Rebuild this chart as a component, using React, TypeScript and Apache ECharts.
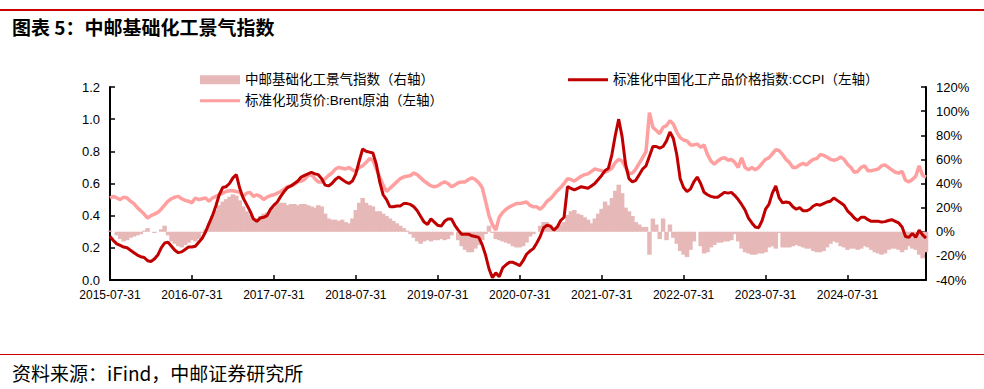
import React, { useEffect, useRef } from "react";
import * as echarts from "echarts";

// ---- categories: semi-monthly dates 2015-07-31 .. 2025-07-15 ----
const pad = (n: number) => (n < 10 ? "0" + n : "" + n);
const dates: string[] = [];
for (let k = 0; k < 120; k++) {
  const mIdx = 6 + k;
  const y = 2015 + Math.floor(mIdx / 12);
  const m = (mIdx % 12) + 1;
  const last = new Date(y, m, 0).getDate();
  dates.push(`${y}-${pad(m)}-${pad(last)}`);
  const n = mIdx + 1;
  const ny = 2015 + Math.floor(n / 12);
  const nm = (n % 12) + 1;
  dates.push(`${ny}-${pad(nm)}-15`);
}

const seriesNames = [
  "中邮基础化工景气指数（右轴）",
  "标准化中国化工产品价格指数:CCPI（左轴）",
  "标准化现货价:Brent原油（左轴）",
];

// 中邮基础化工景气指数 (%), right axis
const boomIndex = [
  1, 0, -3, -6, -8, -7, -5, -4, -3, -2,
  1, 3, 0, -1, 0, 2, 5, -3, -8, -10,
  -12, -13, -11, -9, -7, -8, -6, -1, 2, 7,
  13, 18, 22, 25, 27, 29, 31, 30, 26, 21,
  17, 14, 11, 11, 13, 15, 16, 18, 20, 23,
  24, 24, 22, 23, 23, 22, 23, 23, 22, 21,
  20, 22, 21, 15, 11, 10, 10, 9, 10, 8,
  7, 11, 18, 24, 28, 24, 22, 21, 17, 17,
  15, 13, 11, 9, 7, 5, 3, 1, -2, -5,
  -8, -10, -8, -7, -8, -7, -7, -6, -7, -6,
  -3, 0, -7, -12, -15, -17, -17, -14, -11, -7,
  -2, 5, -1, -6, -7, -8, -9, -10, -12, -13,
  -13, -12, -9, -4, -2, 0, 5, 8, 8, 6,
  3, 4, 6, 8, 14, 17, 18, 15, 14, 12,
  10, 7, 11, 15, 19, 25, 22, 28, 34, 39,
  32, 20, 17, 13, 8, 6, 4, 4, -19, 11,
  6, -6, 11, -7, 6, -5, -10, -16, -19, -21,
  -15, -8, 0, -12, -18, -17, -13, -11, -9, -9,
  -8, -8, -7, -2, -8, -14, -17, -18, -19, -19,
  -18, -18, -17, -13, -12, -14, -1, -13, -13, -13,
  -12, -11, -12, -13, -14, -14, -16, -17, -17, -16,
  -13, -10, -8, -9, -12, -13, -15, -14, -14, -15,
  -14, -12, -13, -15, -17, -18, -19, -18, -15, -14,
  -14, -15, -17, -15, -12, -14, -15, -19, -22, -17,
];

// 标准化中国化工产品价格指数:CCPI, left axis
const ccpi = [
  0.27, 0.245, 0.225, 0.215, 0.205, 0.2, 0.185, 0.17, 0.155, 0.145,
  0.14, 0.12, 0.115, 0.13, 0.155, 0.2, 0.23, 0.235, 0.21, 0.185,
  0.17, 0.175, 0.19, 0.205, 0.205, 0.21, 0.235, 0.26, 0.3, 0.35,
  0.4, 0.46, 0.53, 0.575, 0.58, 0.6, 0.635, 0.655, 0.57, 0.51,
  0.47, 0.43, 0.38, 0.365, 0.385, 0.39, 0.4, 0.44, 0.465, 0.485,
  0.52, 0.55, 0.575, 0.585, 0.6, 0.615, 0.64, 0.65, 0.66, 0.67,
  0.66, 0.655, 0.63, 0.59, 0.585, 0.6, 0.625, 0.64, 0.625, 0.61,
  0.6, 0.615, 0.66, 0.74, 0.815, 0.8, 0.795, 0.79, 0.72, 0.61,
  0.53, 0.5, 0.455, 0.455, 0.46, 0.46, 0.475, 0.475, 0.47, 0.455,
  0.43, 0.395, 0.36, 0.345, 0.38, 0.36, 0.34, 0.335, 0.365, 0.38,
  0.38, 0.34, 0.31, 0.285, 0.285, 0.285, 0.275, 0.27, 0.265, 0.22,
  0.155, 0.07, 0.015, 0.045, 0.02, 0.075, 0.095, 0.11, 0.11, 0.1,
  0.09, 0.12, 0.16, 0.18, 0.195, 0.23, 0.27, 0.325, 0.34, 0.335,
  0.31, 0.33, 0.37, 0.39, 0.58, 0.57, 0.56, 0.57, 0.58, 0.575,
  0.57, 0.585, 0.6, 0.625, 0.65, 0.68, 0.695, 0.78, 0.9, 1.0,
  0.89, 0.72, 0.63, 0.61, 0.62, 0.655, 0.69, 0.71, 0.77, 0.83,
  0.83, 0.82, 0.83, 0.865, 0.92, 0.88, 0.78, 0.63, 0.575, 0.55,
  0.565, 0.61, 0.64, 0.6, 0.545, 0.53, 0.52, 0.515, 0.515, 0.53,
  0.545, 0.54, 0.545, 0.525, 0.5, 0.47, 0.435, 0.385, 0.355, 0.33,
  0.325, 0.37, 0.44, 0.47, 0.54, 0.585, 0.51, 0.48, 0.485, 0.48,
  0.455, 0.44, 0.45, 0.43, 0.43, 0.44, 0.46, 0.47, 0.465, 0.475,
  0.485, 0.49, 0.51, 0.495, 0.48, 0.465, 0.43, 0.41, 0.385, 0.37,
  0.39, 0.39, 0.375, 0.365, 0.365, 0.365, 0.36, 0.363, 0.37, 0.375,
  0.365, 0.355, 0.33, 0.27, 0.265, 0.29, 0.265, 0.31, 0.28, 0.26,
];

// 标准化现货价:Brent原油, left axis
const brent = [
  0.51, 0.52, 0.51, 0.5, 0.515, 0.51, 0.49, 0.475, 0.45, 0.43,
  0.41, 0.385, 0.4, 0.41, 0.42, 0.44, 0.465, 0.49, 0.505, 0.515,
  0.52, 0.505, 0.495, 0.49, 0.48, 0.51, 0.5, 0.505, 0.51, 0.49,
  0.51, 0.52, 0.53, 0.54, 0.55, 0.555, 0.555, 0.55, 0.545, 0.52,
  0.54, 0.545, 0.52, 0.53, 0.52, 0.5, 0.515, 0.525, 0.53, 0.54,
  0.55, 0.565, 0.58, 0.585, 0.595, 0.61, 0.615, 0.625, 0.65, 0.655,
  0.63, 0.61, 0.61, 0.63, 0.65, 0.665, 0.69, 0.7, 0.695, 0.69,
  0.7, 0.685, 0.675, 0.7, 0.71, 0.73, 0.755, 0.745, 0.69, 0.64,
  0.59, 0.55, 0.57, 0.59, 0.61, 0.63, 0.64, 0.645, 0.65, 0.665,
  0.655, 0.635, 0.615, 0.6, 0.585, 0.58, 0.585, 0.6, 0.61, 0.6,
  0.58, 0.59, 0.605, 0.61, 0.61, 0.625, 0.635, 0.625, 0.605, 0.575,
  0.49, 0.4, 0.345, 0.31, 0.39, 0.42, 0.44, 0.455, 0.465, 0.475,
  0.475, 0.48, 0.485, 0.465, 0.455, 0.455, 0.44, 0.46, 0.49, 0.505,
  0.53, 0.555, 0.575, 0.6, 0.63, 0.625, 0.615, 0.63, 0.645, 0.655,
  0.66, 0.675, 0.69, 0.685, 0.68, 0.67, 0.68, 0.695, 0.73, 0.75,
  0.74, 0.7, 0.66, 0.665, 0.69, 0.725, 0.76, 0.8, 1.04, 0.95,
  0.93, 0.91, 0.95, 0.96, 0.99, 0.97, 0.92, 0.885, 0.87, 0.865,
  0.84, 0.84, 0.845, 0.825, 0.84, 0.78, 0.74, 0.72, 0.74, 0.755,
  0.76, 0.745, 0.75, 0.73, 0.7, 0.76, 0.7, 0.685, 0.7, 0.685,
  0.7, 0.725, 0.75, 0.76, 0.785, 0.81, 0.805, 0.78, 0.75, 0.73,
  0.7, 0.7, 0.715, 0.725, 0.715, 0.735, 0.75, 0.755, 0.78, 0.775,
  0.765, 0.75, 0.745, 0.75, 0.765, 0.75, 0.72, 0.7, 0.67, 0.675,
  0.7, 0.71, 0.68, 0.68, 0.685, 0.69, 0.71, 0.715, 0.7, 0.685,
  0.67, 0.665, 0.675, 0.62, 0.61, 0.625, 0.645, 0.71, 0.65, 0.64,
];

const titleText = "图表 5：中邮基础化工景气指数";
const sourceText = "资料来源：iFind，中邮证券研究所";

const BAR_COLOR = "#E6B8B7";
const CCPI_COLOR = "#C00000";
const BRENT_COLOR = "#FF9F9F";
const RED = "#CC0000";
const LEG_FONT = "'Liberation Sans', 'Noto Sans CJK SC', sans-serif";
const AX_FONT = "'Liberation Sans', Arial, sans-serif";

const isJul31 = (_i: number, v: string) => v.slice(5) === "07-31";

export default function App() {
  const ref = useRef<HTMLDivElement>(null);
  useEffect(() => {
    document.body.style.margin = "0";
    if (!ref.current) return;
    const chart = echarts.init(ref.current, undefined, { renderer: "svg" });
    const legendText = { fontSize: 13.5, color: "#000", fontFamily: LEG_FONT };
    chart.setOption({
      animation: false,
      backgroundColor: "#fff",
      graphic: [
        { type: "rect", shape: { x: 0, y: 9, width: 984, height: 2 }, style: { fill: RED } },
        {
          type: "text",
          x: 12,
          y: 26,
          style: {
            text: titleText,
            fontSize: 19,
            fontWeight: "bold",
            fontFamily: "'Noto Sans CJK SC', sans-serif",
            fill: "#000",
            verticalAlign: "middle",
          },
        },
        { type: "rect", shape: { x: 0, y: 354, width: 984, height: 1 }, style: { fill: RED } },
        {
          type: "text",
          x: 12,
          y: 372,
          style: {
            text: sourceText,
            fontSize: 19,
            fontFamily: "'Noto Sans CJK SC', sans-serif",
            fill: "#000",
            verticalAlign: "middle",
          },
        },
      ],
      legend: [
        {
          data: [seriesNames[0]],
          left: 195,
          top: 68,
          itemWidth: 40,
          itemHeight: 9,
          icon: "rect",
          textStyle: legendText,
        },
        {
          data: [seriesNames[2]],
          left: 195,
          top: 89,
          itemWidth: 40,
          itemHeight: 3,
          icon: "rect",
          textStyle: legendText,
        },
        {
          data: [seriesNames[1]],
          left: 563,
          top: 68,
          itemWidth: 40,
          itemHeight: 3,
          icon: "rect",
          textStyle: legendText,
        },
      ],
      grid: { left: 110, right: 58, top: 87, bottom: 109, containLabel: false },
      xAxis: {
        type: "category",
        data: dates,
        boundaryGap: false,
        axisLine: { lineStyle: { color: "#000", width: 2 } },
        axisTick: { inside: true, length: 5, interval: isJul31, lineStyle: { color: "#000", width: 1.5 } },
        axisLabel: {
          interval: isJul31,
          fontSize: 12,
          color: "#000",
          fontFamily: AX_FONT,
          margin: 9,
        },
        splitLine: { show: false },
      },
      yAxis: [
        {
          type: "value",
          min: 0,
          max: 1.2,
          interval: 0.2,
          axisLine: { show: true, lineStyle: { color: "#000", width: 2 } },
          axisTick: { show: true, inside: true, length: 5, lineStyle: { color: "#000", width: 1.5 } },
          axisLabel: {
            formatter: (v: number) => v.toFixed(1),
            fontSize: 13,
            color: "#000",
            fontFamily: AX_FONT,
            margin: 10,
          },
          splitLine: { show: false },
        },
        {
          type: "value",
          min: -40,
          max: 120,
          interval: 20,
          position: "right",
          axisLine: { show: true, lineStyle: { color: "#000", width: 2 } },
          axisTick: { show: true, inside: true, length: 5, lineStyle: { color: "#000", width: 1.5 } },
          axisLabel: {
            formatter: "{value}%",
            fontSize: 13,
            color: "#000",
            fontFamily: AX_FONT,
            margin: 10,
          },
          splitLine: { show: false },
        },
      ],
      series: [
        {
          name: seriesNames[0],
          type: "bar",
          yAxisIndex: 1,
          data: boomIndex,
          barWidth: 4.5,
          itemStyle: { color: BAR_COLOR },
        },
        {
          name: seriesNames[2],
          type: "line",
          yAxisIndex: 0,
          data: brent,
          showSymbol: false,
          symbol: "none",
          lineStyle: { color: BRENT_COLOR, width: 3.5 },
          itemStyle: { color: BRENT_COLOR },
        },
        {
          name: seriesNames[1],
          type: "line",
          yAxisIndex: 0,
          data: ccpi,
          showSymbol: false,
          symbol: "none",
          lineStyle: { color: CCPI_COLOR, width: 3 },
          itemStyle: { color: CCPI_COLOR },
        },
      ],
    });
    return () => chart.dispose();
  }, []);
  return (
    <div
      ref={ref}
      style={{ position: "absolute", left: 0, top: 0, width: 984, height: 389 }}
    />
  );
}
